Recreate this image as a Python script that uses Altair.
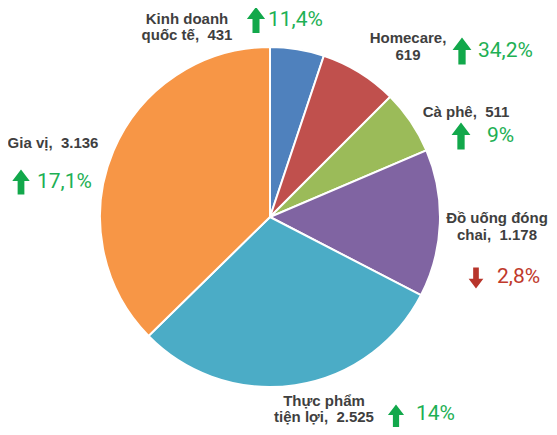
import altair as alt
import pandas as pd

# ---- data ----
categories = ["Kinh doanh quốc tế", "Homecare", "Cà phê", "Đồ uống đóng chai", "Thực phẩm tiện lợi", "Gia vị"]
values = [431, 619, 511, 1178, 2525, 3136]
changes = ["11,4%", "34,2%", "9%", "2,8%", "14%", "17,1%"]
directions = ["up", "up", "up", "down", "up", "up"]
label_lines = [
    ["Kinh doanh", "quốc tế,\u00a0 431"],
    ["Homecare,", "619"],
    ["Cà phê,\u00a0 511"],
    ["Đồ uống đóng", "chai,\u00a0 1.178"],
    ["Thực phẩm", "tiện lợi,\u00a0 2.525"],
    ["Gia vị,\u00a0 3.136"],
]
colors = ["#4F81BD", "#C0504D", "#9BBB59", "#8064A2", "#4BACC6", "#F79646"]

# ---- layout (pixel positions inside the chart) ----
W, H = 541, 419
CX, CY, R = 262, 209, 170
label_pos = [  # (center x, first baseline y, line gap)
    (179, 16, 16),
    (400, 35, 17),
    (458, 109, 17),
    (489, 215, 17),
    (316, 398, 16),
    (45, 140, 17),
]
arrow_pos = [(248, 12, 26), (454, 43, 27), (453, 128, 27), (468, 270, 21), (388, 408, 23), (13, 174, 25)]
pct_pos = [(260, 18), (470, 49), (479, 134), (489, 275), (408, 412), (29, 180)]

pie = pd.DataFrame({"cat": categories, "value": values, "idx": list(range(len(values)))})

rows = []
for lines, (x, y, gap) in zip(label_lines, label_pos):
    for i, t in enumerate(lines):
        rows.append({"t": t, "x": x, "y": y + i * gap})
labels = pd.DataFrame(rows)

UP = "M0,-1L0.7,-0.08L0.27,-0.08L0.27,1L-0.27,1L-0.27,-0.08L-0.7,-0.08Z"
DOWN = "M0,1L0.7,0.08L0.27,0.08L0.27,-1L-0.27,-1L-0.27,0.08L-0.7,0.08Z"
arrows = pd.DataFrame({
    "x": [p[0] for p in arrow_pos],
    "y": [p[1] for p in arrow_pos],
    "s": [p[2] ** 2 for p in arrow_pos],
    "shape": [UP if d == "up" else DOWN for d in directions],
    "col": ["#12A84B" if d == "up" else "#B8352B" for d in directions],
})
pcts = pd.DataFrame({
    "t": changes,
    "x": [p[0] for p in pct_pos],
    "y": [p[1] for p in pct_pos],
    "col": ["#1DB054" if d == "up" else "#C0392B" for d in directions],
})

xs = alt.Scale(domain=[0, W], range=[0, W])
ys = alt.Scale(domain=[0, H], range=[0, H])

arc = alt.Chart(pie).mark_arc(outerRadius=R, stroke="white", strokeWidth=2).encode(
    theta=alt.Theta("value:Q", stack=True),
    order=alt.Order("idx:Q"),
    color=alt.Color("cat:N", scale=alt.Scale(domain=categories, range=colors), legend=None),
    x=alt.value(CX),
    y=alt.value(CY),
)

txt = alt.Chart(labels).mark_text(
    font="Liberation Sans", fontWeight="bold", fontSize=15, color="#3F3F3F",
    align="center", baseline="alphabetic",
).encode(
    x=alt.X("x:Q", scale=xs, axis=None),
    y=alt.Y("y:Q", scale=ys, axis=None),
    text="t:N",
)

arr = alt.Chart(arrows).mark_point(filled=True, opacity=1, strokeWidth=0).encode(
    x=alt.X("x:Q", scale=xs, axis=None),
    y=alt.Y("y:Q", scale=ys, axis=None),
    shape=alt.Shape("shape:N", scale=None),
    size=alt.Size("s:Q", scale=None),
    color=alt.Color("col:N", scale=None),
)

pct = alt.Chart(pcts).mark_text(
    font="Roboto", fontSize=21, align="left", baseline="alphabetic",
).encode(
    x=alt.X("x:Q", scale=xs, axis=None),
    y=alt.Y("y:Q", scale=ys, axis=None),
    text="t:N",
    color=alt.Color("col:N", scale=None),
)

chart = alt.layer(arc, txt, arr, pct).properties(
    width=W, height=H, padding=0, autosize=alt.AutoSizeParams(type="none")
).configure_view(stroke=None)

chart.save("out.html", embed_options={"renderer": "svg", "actions": False})
